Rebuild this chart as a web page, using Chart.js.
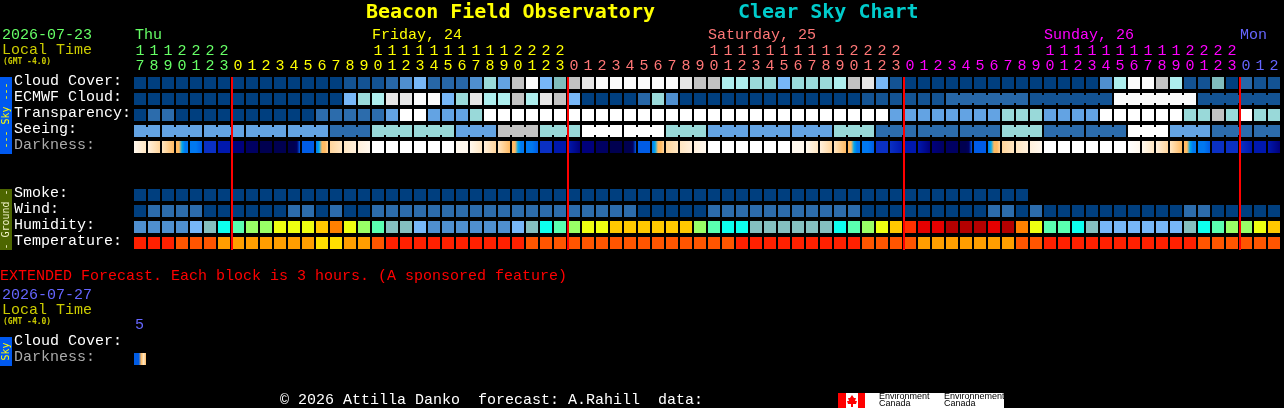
<!DOCTYPE html>
<html>
<head>
<meta charset="utf-8">
<title>Clear Sky Chart</title>
<script src="https://cdn.jsdelivr.net/npm/chart.js@4"></script>
<style>
  html, body { margin: 0; background: #000; }
  canvas { display: block; }
</style>
</head>
<body>
<canvas id="sky" width="1284" height="408"></canvas>
<script>
// ── forecast hours, one per block, Thu 17:00 to Mon 02:00 ──
const hours = [
  17,18,19,20,21,22,23,
  0,1,2,3,4,5,6,7,8,9,10,11,12,13,14,15,16,17,18,19,20,21,22,23,
  0,1,2,3,4,5,6,7,8,9,10,11,12,13,14,15,16,17,18,19,20,21,22,23,
  0,1,2,3,4,5,6,7,8,9,10,11,12,13,14,15,16,17,18,19,20,21,22,23,
  0,1,2
];
const dayOfHour = [
  0,0,0,0,0,0,0,
  1,1,1,1,1,1,1,1,1,1,1,1,1,1,1,1,1,1,1,1,1,1,1,1,
  2,2,2,2,2,2,2,2,2,2,2,2,2,2,2,2,2,2,2,2,2,2,2,2,
  3,3,3,3,3,3,3,3,3,3,3,3,3,3,3,3,3,3,3,3,3,3,3,3,
  4,4,4
];
const dayColors = ['#66ff66', '#ffff00', '#ff7777', '#ff00ff', '#6666ff'];

// ── midnight markers, between the 23h and 0h blocks ──
const midnights = [6.5714286, 30.5714286, 54.5714286, 78.5714286];

// ── row labels and where they sit ──
const rowLabels = ['Cloud Cover:', 'ECMWF Cloud:', 'Transparency:', 'Seeing:', 'Darkness:',
  'Smoke:', 'Wind:', 'Humidity:', 'Temperature:', 'Cloud Cover:', 'Darkness:'];
const rowSlots = [0, 1, 2, 3, 4, 7, 8, 9, 10, 16.25, 17.25];

// ── palettes ──
const cloudColors = ['#003f7f', '#135393', '#2767a7', '#3b7bbb', '#4f8fcf', '#63a3e3', '#77b7f7',
  '#80bdbd', '#9adada', '#aeeeee', '#c2c2c2', '#e6e6e6', '#fbfbfb'];
const skyColors = ['#003f7f', '#2c6cac', '#63a3e3', '#99d9d9', '#ffffff', '#c2c2c2'];
const windColors = ['#003f7f', '#2c6cac'];
const humidityColors = ['#4f8fcf', '#77b7f7', '#84bfbf', '#0dffee', '#5affb0', '#99ff66',
  '#eeff11', '#ffc800', '#ff8000', '#ff3000', '#e60000', '#b40000'];
const temperatureColors = ['#ff2000', '#ff5500', '#ff9e00', '#ffdf00'];
const darknessColors = ['#ffffff', '#fff8ee', '#fff0dc', '#ffe6c2', '#ffd59c', '#ffba62', '#00a8ec',
  '#0078f0', '#005ce6', '#0a30c4', '#0018ae', '#00007c', '#000062', '#000050'];

// ── block levels ──
const cloudCover = [
  0,0,0,0,0,0,0,0,0,0,0,0,0,0,0,1,1,1,2,4,6,2,2,2,4,8,5,10,12,6,7,
  10,11,12,12,12,12,12,12,11,10,10,9,9,8,8,6,8,8,8,9,10,
  11,6,1,0,0,0,0,0,0,0,0,0,0,0,0,0,0,4,9,12,12,10,9,1,1,7,0,2,1,1
];
const ecmwfCloud = [
  0,0,0,0,0,0,0,0,0,0,0,0,0,0,0,6,8,9,11,11,12,12,6,8,11,9,9,10,9,11,10,
  6,0,0,0,0,2,8,4,0,0,0,0,0,0,0,0,0,0,0,0,0,
  1,1,1,1,1,1,2,2,2,2,2,2,1,1,1,1,1,1,12,12,12,12,12,12,1,1,1,1,1,1
];
const ecmwfMergedFrom = [58, 64, 70, 76];
const transparency = [
  0,1,1,0,0,0,0,0,0,0,0,0,0,1,1,1,1,1,2,4,4,2,2,2,3,4,4,4,4,4,4,
  4,4,4,4,4,4,4,4,4,4,4,4,4,4,4,4,4,4,4,4,4,
  4,4,2,2,2,2,2,2,2,2,3,3,3,2,2,2,2,4,4,4,4,4,4,3,3,5,3,4,3,3
];
const seeingBlockSizes = [2,3,3,3,3,3,3,3,3,3,3,3,3,3,3,3,3,3,3,3,3,3,3,3,3,3,3,2];
const seeingBlocks = [2,2,2,2,2,1,3,3,2,5,3,4,4,3,2,2,2,3,1,1,1,3,1,1,4,2,1,1];
const darknessStops = [
  [1,3],[2,4],[3,5],[5,5,6,7,7],[7,7,8],[9],[10],[11],[12],[13],[13],[13,13,13,12,8],[8],
  [7,6,5,5,4],[4,3],[3,2],[2,1],[0],[0],[0],[0],[0],[0],[1],
  [1,3],[2,4],[3,5],[5,5,6,7,7],[7,7,8],[9],[10],[10,11],[11],[12],[13],[13,13,13,12,8],[8],
  [7,6,5,5,4],[4,3],[3,2],[2,1],[0],[0],[0],[0],[0],[0],[1],
  [1,3],[2,4],[3,5],[5,5,6,7,7],[7,7,8],[9],[9,10],[10],[10,11],[11,12],[12],[13,13,13,12,8],[8],
  [7,6,5,5,4],[4,3],[3,2],[2,1],[0],[0],[0],[0],[0],[0],[0,1],
  [1,3],[2,4],[3,5],[5,5,6,7,7],[7,7,8],[9],[9],[9,10],[10],[10,11]
];
const smoke = [
  0,0,0,0,0,0,0,0,0,0,0,0,0,0,0,0,0,0,0,0,0,0,0,0,0,0,0,0,0,0,0,0,
  0,0,0,0,0,0,0,0,0,0,0,0,0,0,0,0,0,0,0,0,0,0,0,0,0,0,0,0,0,0,0,0
];
const wind = [
  0,1,1,1,1,0,0,0,0,0,0,1,1,0,1,0,0,1,1,1,1,1,1,1,1,1,1,1,1,1,1,
  1,1,1,1,1,0,0,0,0,0,1,1,1,1,1,1,1,1,1,1,1,
  0,0,0,0,0,0,0,0,0,1,1,0,1,0,0,0,0,0,0,0,0,0,0,1,1,0,0,0,0,0
];
const humidity = [
  0,0,0,0,1,2,3,4,5,5,6,6,6,7,8,6,5,4,2,2,1,0,0,0,0,0,0,1,2,3,4,
  5,6,6,7,7,7,7,7,7,5,4,3,3,2,2,2,2,2,2,3,4,
  5,6,7,9,10,10,11,11,11,10,11,8,6,4,4,3,2,1,1,1,1,1,1,2,3,4,5,5,6,7
];
const temperature = [
  0,0,0,1,1,1,2,2,2,2,2,2,2,3,3,2,2,1,0,0,0,0,0,0,0,0,0,0,1,1,1,
  1,1,1,1,1,1,1,1,1,1,1,1,0,0,0,0,0,0,0,0,0,
  1,1,1,1,2,2,2,2,2,2,2,1,1,0,0,0,0,0,0,0,0,0,0,0,1,1,1,1,1,1
];

// extended forecast, a single 3 hour block
const extendedDarkness = [[8,8,8,5,3,5]];

// seeing comes in blocks, spread them out over the hours
const seeing = seeingBlocks.flatMap((level, b) => Array(seeingBlockSizes[b]).fill(level));

const ROW = 0.75;         // a block is 12 of the 16px row pitch
const INSET = 0.125;      // connector stands 2px off the block edge
const LABEL_LIFT = 0.1;   // row labels sit a touch above the block centre

const cells = (levels, row) => levels.map((_, i) => ({ x: i, y: [row, row + ROW] }));
const cellDataset = (levels, row, colors) => ({
  data: cells(levels, row),
  backgroundColor: levels.map(l => colors[l]),
});

// darkness blocks fade inside themselves, so each gets its own gradient
function darknessFill(stopsList) {
  return ctx => {
    const stops = stopsList[ctx.dataIndex];
    if (!stops) return '#000';
    const mid = ctx.chart.scales.x.getPixelForValue(ctx.dataIndex);
    // scale is not laid out yet on the first pass
    if (stops.length === 1 || !isFinite(mid)) return darknessColors[stops[0]];
    const g = ctx.chart.ctx.createLinearGradient(mid - 6, 0, mid + 6, 0);
    stops.forEach((s, n) => g.addColorStop(n / (stops.length - 1), darknessColors[s]));
    return g;
  };
}

// connectors for merged blocks, on their own axis so bar widths do not get squeezed
const gapsForSeeing = [];
let hourAt = 0;
seeingBlockSizes.forEach(size => {
  for (let k = 0; k < size - 1; k++) gapsForSeeing.push(hourAt + k + 0.5);
  hourAt += size;
});
const gapsForEcmwf = ecmwfMergedFrom.flatMap(s => [0, 1, 2, 3, 4].map(k => s + k + 0.5));

const connector = (gaps, row, colorAt) => ({
  xAxisID: 'xGap',
  maxBarThickness: 2,
  data: gaps.map(g => ({ x: g, y: [row + INSET, row + ROW - INSET] })),
  backgroundColor: gaps.map(g => colorAt(Math.floor(g))),
});

// inflateAmount 0, otherwise chart.js fattens fixed-width bars and the 2px gaps go soft
const datasets = [
  cellDataset(cloudCover, 0, cloudColors),
  cellDataset(ecmwfCloud, 1, cloudColors),
  connector(gapsForEcmwf, 1, i => cloudColors[ecmwfCloud[i]]),
  cellDataset(transparency, 2, skyColors),
  cellDataset(seeing, 3, skyColors),
  connector(gapsForSeeing, 3, i => skyColors[seeing[i]]),
  { data: cells(darknessStops, 4), backgroundColor: darknessFill(darknessStops) },
  cellDataset(smoke, 7, cloudColors),
  cellDataset(wind, 8, windColors),
  cellDataset(humidity, 9, humidityColors),
  cellDataset(temperature, 10, temperatureColors),
  { data: cells(extendedDarkness, 17.25), backgroundColor: darknessFill(extendedDarkness) },
].map(d => ({ type: 'bar', order: 1, grouped: false, barThickness: 12, maxBarThickness: 12, borderWidth: 0, inflateAmount: 0, ...d }));

midnights.forEach(m => datasets.push({
  type: 'line', order: 0, borderColor: '#ff0000', borderWidth: 2, pointRadius: 0,
  data: [{ x: m, y: 0 }, { x: m, y: 10.8125 }],
}));

// ── everything around the grid ──
const MONO = '"Liberation Mono", "DejaVu Sans Mono", monospace';
const HEAVY = '"DejaVu Sans Mono", monospace';
const labels = [
  { t: 'Beacon Field Observatory', x: 366, y: 13, c: '#ffff00', f: 'bold 20px ' + HEAVY },
  { t: 'Clear Sky Chart', x: 738, y: 13, c: '#00cccc', f: 'bold 20px ' + HEAVY },
  { t: '2026-07-23', x: 2, y: 35, c: '#66ff66' },
  { t: 'Local Time', x: 2, y: 50, c: '#cccc00' },
  { t: '(GMT -4.0)', x: 3, y: 62, c: '#cccc00', f: 'bold 8px ' + HEAVY },
  { t: 'Thu', x: 135, y: 35, c: dayColors[0] },
  { t: 'Friday, 24', x: 372, y: 35, c: dayColors[1] },
  { t: 'Saturday, 25', x: 708, y: 35, c: dayColors[2] },
  { t: 'Sunday, 26', x: 1044, y: 35, c: dayColors[3] },
  { t: 'Mon', x: 1240, y: 35, c: dayColors[4] },
  { t: 'EXTENDED Forecast. Each block is 3 hours. (A sponsored feature)', x: 0, y: 276, c: '#ff0000' },
  { t: '2026-07-27', x: 2, y: 295, c: '#6666ff' },
  { t: 'Local Time', x: 2, y: 310, c: '#cccc00' },
  { t: '(GMT -4.0)', x: 3, y: 322, c: '#cccc00', f: 'bold 8px ' + HEAVY },
  { t: '5', x: 135, y: 325, c: '#6666ff' },
  { t: '© 2026 Attilla Danko  forecast: A.Rahill  data:', x: 280, y: 400, c: '#ffffff' },
];
const sideTabs = [
  { t: '--- Sky ---', top: 77, bottom: 154, bg: '#0059f0', c: '#ffff00' },
  { t: '- Ground -', top: 189, bottom: 250, bg: '#4d6600', c: '#f2f2c8' },
  { t: 'Sky', top: 337, bottom: 366, bg: '#0059f0', c: '#ffff00' },
];
const logoWords = [
  { x: 879, top: 'Environment', bottom: 'Canada' },
  { x: 944, top: 'Environnement', bottom: 'Canada' },
];

const sheetText = {
  id: 'sheetText',
  afterDraw(chart) {
    const ctx = chart.ctx;
    ctx.save();
    ctx.textBaseline = 'middle';
    labels.forEach(l => {
      ctx.font = l.f || '15px ' + MONO;
      ctx.fillStyle = l.c;
      ctx.fillText(l.t, l.x, l.y);
    });
    sideTabs.forEach(tab => {
      ctx.fillStyle = tab.bg;
      ctx.fillRect(0, tab.top, 12, tab.bottom - tab.top);
      ctx.save();
      ctx.translate(6, (tab.top + tab.bottom) / 2);
      ctx.rotate(-Math.PI / 2);
      ctx.textAlign = 'center';
      ctx.font = '10px ' + HEAVY;
      ctx.fillStyle = tab.c;
      ctx.fillText(tab.t, 0, 0);
      ctx.restore();
    });
    drawLogo(ctx);
    ctx.restore();
  },
};

function drawLogo(ctx) {
  ctx.save();
  ctx.beginPath();
  ctx.rect(838, 393, 166, 15);
  ctx.clip();
  ctx.fillStyle = '#fff';
  ctx.fillRect(838, 393, 166, 15);
  ctx.fillStyle = '#ff0000';
  ctx.fillRect(838, 393, 8, 15);
  ctx.fillRect(858, 393, 7, 15);
  // maple leaf, roughly
  ctx.beginPath();
  [[852,395],[854,398],[856,398],[855,401],[857,401],[856,404],[853,404],[853,407],[851,407],[851,404],[848,404],[847,401],[849,401],[848,398],[850,398]]
    .forEach(([x, y], n) => n ? ctx.lineTo(x, y) : ctx.moveTo(x, y));
  ctx.closePath();
  ctx.fill();
  ctx.fillStyle = '#000';
  ctx.font = '9px "Liberation Sans", sans-serif';
  ctx.textBaseline = 'middle';
  logoWords.forEach(w => {
    ctx.fillText(w.top, w.x, 397);
    ctx.fillText(w.bottom, w.x, 404);
  });
  ctx.restore();
}

new Chart(document.getElementById('sky'), {
  type: 'bar',
  data: { datasets },
  plugins: [sheetText],
  options: {
    responsive: false,
    animation: false,
    devicePixelRatio: 1,
    layout: { padding: { top: 37, left: 14, right: 3, bottom: 0 } },
    plugins: { legend: { display: false }, tooltip: { enabled: false } },
    scales: {
      x: {
        type: 'linear',
        position: 'top',
        offset: false,      // bar charts turn this on by default, it shifts the whole grid
        min: -0.5,
        max: 81.5,
        grid: { display: false, drawTicks: false },
        border: { display: false },
        // fixed height and no label overhang, the grid has to sit on exact pixels
        afterFit: s => { s.height = 40; s.paddingLeft = 0; s.paddingRight = 0; },
        afterBuildTicks: s => { s.ticks = hours.map((_, i) => ({ value: i })); },
        ticks: {
          autoSkip: false,
          maxRotation: 0,
          minRotation: 0,
          padding: 3,
          font: { family: MONO, size: 15, lineHeight: 1 },
          color: c => dayColors[dayOfHour[c.index]],
          callback: (v, i) => {
            const h = String(hours[i]);
            return h.length > 1 ? [h[0], h[1]] : ['', h];
          },
        },
      },
      xGap: { type: 'linear', display: false, offset: false, min: -0.5, max: 81.5 },
      y: {
        type: 'linear',
        reverse: true,
        min: 0,
        max: 20.6875,
        grid: { display: false, drawTicks: false },
        border: { display: false },
        afterFit: s => { s.width = 119; s.paddingTop = 0; s.paddingBottom = 0; },
        afterBuildTicks: s => { s.ticks = rowSlots.map(r => ({ value: r + ROW / 2 - LABEL_LIFT })); },
        ticks: {
          autoSkip: false,
          crossAlign: 'far',
          padding: 0,
          font: { family: MONO, size: 15 },
          color: c => (rowLabels[c.index] === 'Darkness:' ? '#aaaaaa' : '#ffffff'),
          callback: (v, i) => rowLabels[i],
        },
      },
    },
  },
});
</script>
</body>
</html>
